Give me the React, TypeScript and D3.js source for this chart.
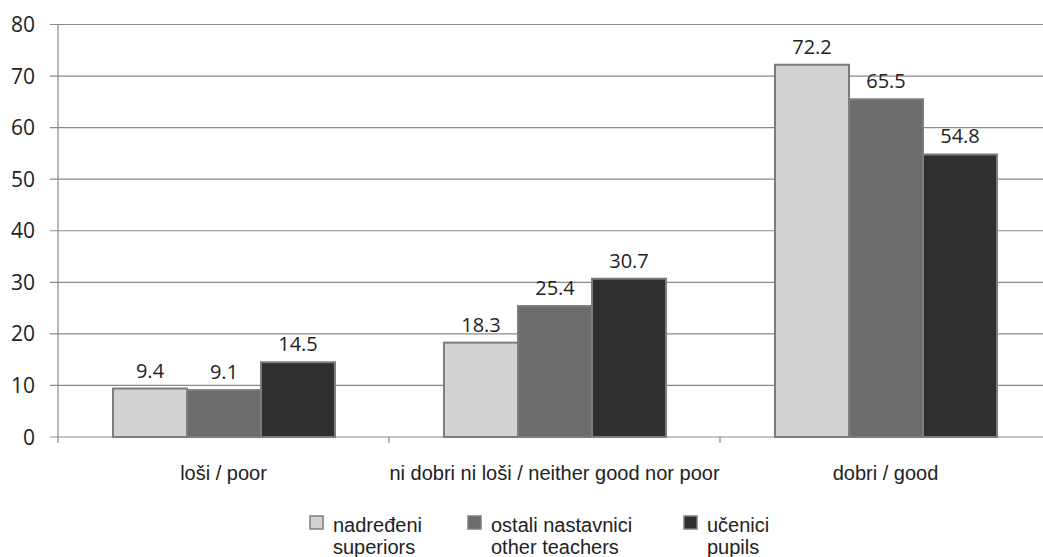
import React from "react";
import * as d3 from "d3";

const categories = ["loši / poor", "ni dobri ni loši / neither good nor poor", "dobri / good"];
const seriesKeys = ["nadređeni", "ostali nastavnici", "učenici"];
const seriesSubLabels = ["superiors", "other teachers", "pupils"];
const superiorsValues = [9.4, 18.3, 72.2];
const otherTeachersValues = [9.1, 25.4, 65.5];
const pupilsValues = [14.5, 30.7, 54.8];
const yTicks = [0, 10, 20, 30, 40, 50, 60, 70, 80];

const seriesValues = [superiorsValues, otherTeachersValues, pupilsValues];
const fills = ["#d3d3d3", "#6c6c6c", "#2f2f2f"];

const W = 1043;
const H = 557;

export default function App() {
  const x = d3.scaleBand<string>().domain(categories).range([58, 1051]).padding(0);
  const inner = d3.scaleBand<string>().domain(seriesKeys).range([55, 277]).padding(0);
  const y = d3.scaleLinear().domain([0, 80]).range([437, 24.5]);

  const legendX = [310, 468, 684];

  return (
    <div style={{ position: "absolute", left: 0, top: 0 }}>
      <svg width={W} height={H} style={{ display: "block", background: "#fff" }}>
        {/* horizontal gridlines with left ticks */}
        {yTicks.map((t) => (
          <line key={"g" + t} x1={50} x2={W} y1={y(t)} y2={y(t)} stroke="#8a8a8a" strokeWidth={1.2} />
        ))}
        {/* y axis */}
        <line x1={58} x2={58} y1={y(80)} y2={y(0)} stroke="#8a8a8a" strokeWidth={1.2} />
        {/* x category boundary ticks */}
        {categories.map((c) => (
          <line key={"xt" + c} x1={x(c)!} x2={x(c)!} y1={y(0)} y2={y(0) + 6} stroke="#8a8a8a" strokeWidth={1.2} />
        ))}
        {/* y tick labels */}
        {yTicks.map((t) => (
          <text
            key={"yl" + t}
            x={35}
            y={y(t)}
            dy="0.36em"
            textAnchor="end"
            fontFamily="'Open Sans', sans-serif"
            fontSize={21}
            fill="#222"
          >
            {t}
          </text>
        ))}
        {/* bars */}
        {categories.map((c, ci) =>
          seriesKeys.map((s, si) => {
            const v = seriesValues[si][ci];
            const bx = x(c)! + inner(s)!;
            const bw = inner.bandwidth();
            return (
              <g key={c + s}>
                <rect
                  x={bx}
                  y={y(v)}
                  width={bw}
                  height={y(0) - y(v)}
                  fill={fills[si]}
                  stroke="#7d7d7d"
                  strokeWidth={2}
                />
                <text
                  x={bx + bw / 2}
                  y={y(v) - 11}
                  textAnchor="middle"
                  fontFamily="'Open Sans', sans-serif"
                  fontSize={20}
                  fill="#222"
                >
                  {v.toFixed(1)}
                </text>
              </g>
            );
          })
        )}
        {/* category labels */}
        {categories.map((c) => (
          <text
            key={"cl" + c}
            x={x(c)! + x.bandwidth() / 2}
            y={480}
            textAnchor="middle"
            fontFamily="'Liberation Sans', Arial, sans-serif"
            fontSize={20}
            fill="#222"
          >
            {c}
          </text>
        ))}
        {/* legend */}
        {seriesKeys.map((s, i) => (
          <g key={"lg" + s}>
            <rect x={legendX[i]} y={516} width={13} height={13} fill={fills[i]} stroke="#7d7d7d" strokeWidth={1.5} />
            <text
              x={legendX[i] + 23}
              y={532}
              fontFamily="'Liberation Sans', Arial, sans-serif"
              fontSize={20}
              fill="#222"
            >
              {s}
            </text>
            <text
              x={legendX[i] + 23}
              y={554}
              fontFamily="'Liberation Sans', Arial, sans-serif"
              fontSize={20}
              fill="#222"
            >
              {seriesSubLabels[i]}
            </text>
          </g>
        ))}
      </svg>
    </div>
  );
}
